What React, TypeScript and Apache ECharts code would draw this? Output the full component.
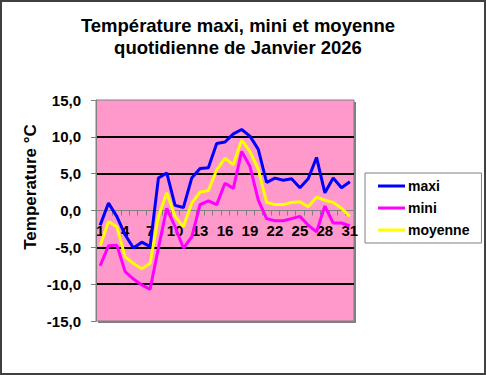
import React, { useEffect, useRef } from "react";
import * as echarts from "echarts";

const days: string[] = Array.from({ length: 31 }, (_, i) => String(i + 1));
const maxi: number[] = [-2.0, 1.0, -0.8, -3.3, -5.1, -4.3, -4.9, 4.4, 5.1, 0.7, 0.4, 4.4, 5.7, 5.8, 9.1, 9.3, 10.4, 11.0, 10.1, 8.3, 3.8, 4.4, 4.1, 4.3, 3.1, 4.3, 7.2, 2.4, 4.4, 3.1, 3.9];
const mini: number[] = [-7.5, -4.8, -4.7, -8.3, -9.3, -10.1, -10.7, -5.1, 0.3, -2.2, -5.1, -3.6, 0.8, 1.3, 0.8, 3.7, 3.0, 8.0, 6.0, 1.4, -1.1, -1.4, -1.4, -1.1, -0.8, -2.0, -2.9, 0.6, -1.7, -1.7, -2.1];
const moyenne: number[] = [-4.8, -1.5, -2.2, -6.3, -7.2, -7.9, -7.2, -0.8, 2.4, -0.8, -2.2, 1.0, 2.5, 2.7, 5.5, 7.1, 6.2, 9.6, 8.0, 5.6, 1.1, 0.8, 0.8, 1.1, 1.2, 0.5, 1.8, 1.4, 1.1, 0.3, -0.8];
const titleLines: string[] = ["Température maxi, mini et moyenne", "quotidienne de Janvier 2026"];
const yName = "Temperature °C";

const FONT = '"Liberation Sans", Arial, sans-serif';

export default function App() {
  const ref = useRef<HTMLDivElement>(null);
  useEffect(() => {
    document.body.style.margin = "0";
    if (!ref.current) return;
    const chart = echarts.init(ref.current, undefined, { renderer: "svg" });
    const G = { left: 96, top: 100, width: 258, height: 221 };
    chart.setOption({
      animation: false,
      backgroundColor: "#ffffff",
      textStyle: { fontFamily: FONT },
      grid: {
        left: G.left,
        top: G.top,
        width: G.width,
        height: G.height,
        show: true,
        backgroundColor: "#FF99CC",
        borderColor: "#808080",
        borderWidth: 1,
        z: 0,
      },
      graphic: [
        {
          type: "rect",
          z: -10,
          silent: true,
          shape: { x: 1, y: 1, width: 484, height: 373 },
          style: { fill: "#ffffff", stroke: "#404040", lineWidth: 2 },
        },
        {
          type: "rect",
          z: -5,
          silent: true,
          shape: { x: G.left + 2, y: G.top + 2, width: G.width, height: G.height },
          style: { fill: "#808080" },
        },
        {
          type: "text",
          x: 238,
          y: 25,
          style: { text: titleLines[0], textAlign: "center", textVerticalAlign: "middle", font: `bold 18.5px ${FONT}`, fill: "#000" },
        },
        {
          type: "text",
          x: 238,
          y: 47,
          style: { text: titleLines[1], textAlign: "center", textVerticalAlign: "middle", font: `bold 18.5px ${FONT}`, fill: "#000" },
        },
        {
          type: "text",
          x: 30,
          y: 187,
          rotation: Math.PI / 2,
          style: { text: yName, textAlign: "center", textVerticalAlign: "middle", font: `bold 17px ${FONT}`, fill: "#000" },
        },
      ],
      legend: {
        orient: "vertical",
        left: 365,
        top: 173,
        padding: [6, 12, 6, 13],
        itemGap: 8,
        itemWidth: 27,
        itemHeight: 3,
        icon: "rect",
        backgroundColor: "#ffffff",
        borderColor: "#808080",
        borderWidth: 1,
        borderRadius: 0,
        textStyle: { fontSize: 14, fontWeight: "bold", color: "#000", fontFamily: FONT, padding: [0, 0, 0, -2] },
        data: ["maxi", "mini", "moyenne"],
      },
      xAxis: {
        type: "category",
        data: days,
        boundaryGap: true,
        z: 2,
        offset: -G.height / 2,
        axisLine: { show: true, onZero: false, lineStyle: { color: "#808080", width: 1 } },
        axisTick: { show: true, interval: 0, length: 5, lineStyle: { color: "#808080" } },
        axisLabel: { interval: 2, margin: 12, fontSize: 15, fontWeight: "bold", color: "#000", fontFamily: FONT },
        splitLine: { show: false },
      },
      yAxis: {
        type: "value",
        min: -15,
        max: 15,
        interval: 5,
        z: 1,
        axisLine: { show: true, lineStyle: { color: "#808080", width: 1 } },
        axisTick: { show: true, length: 5, lineStyle: { color: "#808080" } },
        axisLabel: {
          margin: 15,
          fontSize: 15,
          fontWeight: "bold",
          color: "#000",
          fontFamily: FONT,
          formatter: (v: number) => v.toFixed(1).replace(".", ","),
        },
        splitLine: {
          show: true,
          lineStyle: {
            color: ["rgba(0,0,0,0)", "#000000", "#000000", "rgba(0,0,0,0)", "#000000", "#000000", "rgba(0,0,0,0)"],
            width: 2,
          },
        },
      },
      series: [
        { name: "maxi", type: "line", data: maxi, symbol: "none", z: 5, lineStyle: { color: "#0000FF", width: 3 }, itemStyle: { color: "#0000FF" } },
        { name: "mini", type: "line", data: mini, symbol: "none", z: 4, lineStyle: { color: "#FF00FF", width: 3 }, itemStyle: { color: "#FF00FF" } },
        { name: "moyenne", type: "line", data: moyenne, symbol: "none", z: 4, lineStyle: { color: "#FFFF00", width: 3 }, itemStyle: { color: "#FFFF00" } },
      ],
    });
    return () => chart.dispose();
  }, []);
  return <div ref={ref} style={{ width: 486, height: 375 }} />;
}
